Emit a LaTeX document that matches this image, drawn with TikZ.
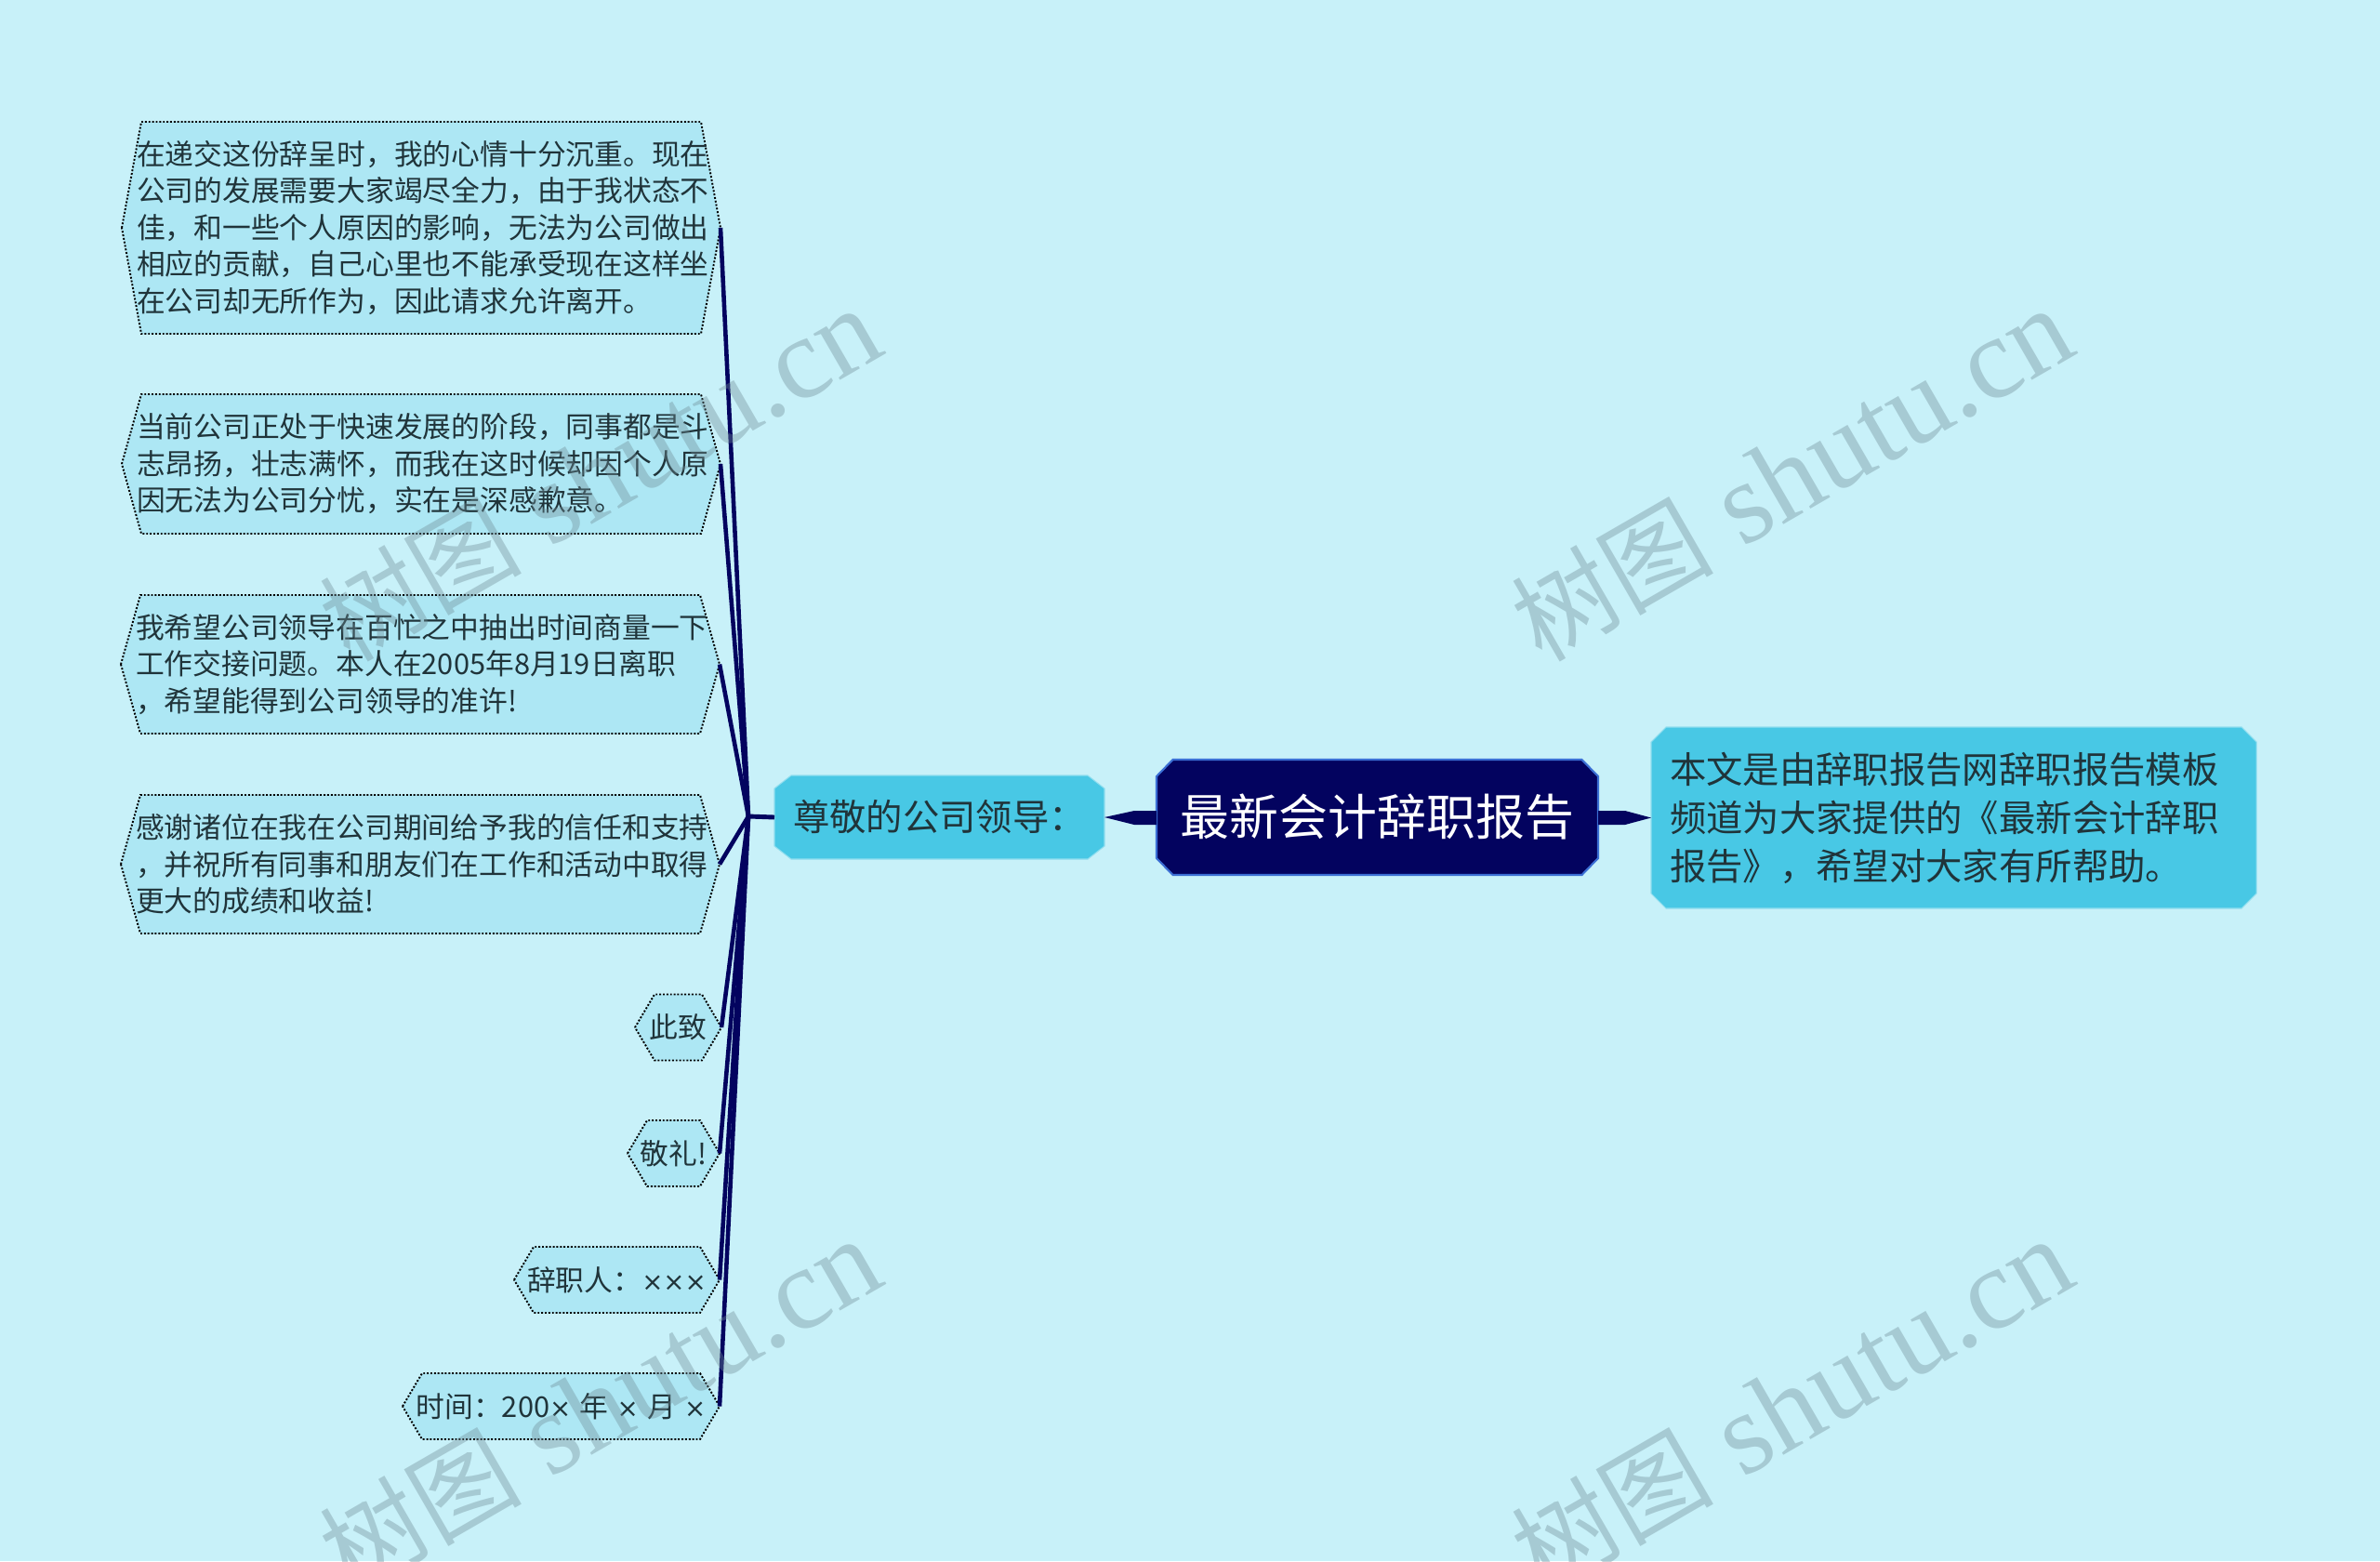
\documentclass[tikz,border=0pt]{standalone}
\usepackage{fontspec}
\usepackage{xcolor}
\usetikzlibrary{backgrounds}
\setmainfont{Noto Sans CJK SC}
\newfontfamily\markfont{Liberation Serif}
\newfontfamily\markcjk{Noto Sans CJK SC}
\newfontfamily\crossfont[Scale=0.9]{DejaVu Sans}
\definecolor{bgblue}{HTML}{C8F1F9}
\definecolor{leafblue}{HTML}{ADE7F4}
\definecolor{topicblue}{HTML}{48C8E5}
\definecolor{navy}{HTML}{03035F}
\definecolor{edgeblue}{HTML}{3B6FD4}
\definecolor{inkgray}{HTML}{20343A}
\definecolor{markgray}{HTML}{6F8C96}
\newcommand{\crossmark}{{\crossfont ×}}
\newcommand{\hexback}[1]{\draw[leafline] (#1.west) -- ([xshift=0.21cm]#1.north west) -- ([xshift=-0.21cm]#1.north east) -- (#1.east) -- ([xshift=-0.21cm]#1.south east) -- ([xshift=0.21cm]#1.south west) -- cycle;}
\newcommand{\octback}[4]{\draw[#1] ([xshift=#2]#4.north west) -- ([xshift=-#2]#4.north east) -- ([yshift=-#3]#4.north east) -- ([yshift=#3]#4.south east) -- ([xshift=-#2]#4.south east) -- ([xshift=#2]#4.south west) -- ([yshift=#3]#4.south west) -- ([yshift=-#3]#4.north west) -- cycle;}
\tikzset{
 leafline/.style={fill=leafblue,draw=black,line width=0.55pt,dash pattern=on 0.55pt off 0.55pt},
 leafbox/.style={inner sep=0pt,outer sep=0pt,align=left,text=inkgray,font=\fontsize{8.76pt}{11.24pt}\selectfont},
 longleaf/.style={leafbox,text width=6.12cm,inner xsep=0.16cm,minimum width=6.44cm},
 shortleaf/.style={leafbox,minimum height=0.71cm},
 topicbox/.style={inner sep=0pt,outer sep=0pt,align=left,text=inkgray,font=\fontsize{11.2pt}{14.8pt}\selectfont},
 topicline/.style={fill=topicblue,draw=topicblue!60!white,line width=0.3pt},
 titleline/.style={fill=navy,draw=edgeblue,line width=0.6pt},
 linkline/.style={navy,line width=1.3pt},
 markword/.style={markgray,opacity=0.38,rotate=30,inner sep=0pt,font=\fontsize{35.5pt}{40pt}\markfont}
}
\begin{document}
\begin{tikzpicture}
 \path[use as bounding box,clip] (0,0) rectangle (25.6,-16.79);

 \coordinate (hub) at (8.05,-8.78);

 \node (leafa) at (4.53,-2.45)[longleaf,minimum height=2.28cm]{在递交这份辞呈时，我的心情十分沉重。现在\\公司的发展需要大家竭尽全力，由于我状态不\\佳，和一些个人原因的影响，无法为公司做出\\相应的贡献，自己心里也不能承受现在这样坐\\在公司却无所作为，因此请求允许离开。};
 \node (leafb) at (4.53,-4.99)[longleaf,minimum height=1.50cm]{当前公司正处于快速发展的阶段，同事都是斗\\志昂扬，壮志满怀，而我在这时候却因个人原\\因无法为公司分忧，实在是深感歉意。};
 \node (leafc) at (4.52,-7.145)[longleaf,minimum height=1.49cm]{我希望公司领导在百忙之中抽出时间商量一下\\工作交接问题。本人在2005年8月19日离职\\，希望能得到公司领导的准许!};
 \node (leafd) at (4.52,-9.295)[longleaf,minimum height=1.49cm]{感谢诸位在我在公司期间给予我的信任和支持\\，并祝所有同事和朋友们在工作和活动中取得\\更大的成绩和收益!};
 \node (leafe) at (7.295,-11.05)[shortleaf,minimum width=0.93cm]{此致};
 \node (leaff) at (7.245,-12.405)[shortleaf,minimum width=0.99cm]{敬礼!};
 \node (leafg) at (6.635,-13.765)[shortleaf,minimum width=2.21cm]{辞职人：\crossmark\crossmark\crossmark};
 \node (leafh) at (6.035,-15.125)[shortleaf,minimum width=3.41cm]{\spaceskip=0.3em 时间：200\crossmark{} 年 \crossmark{} 月 \crossmark};

 \node (topic) at (10.105,-8.79)[topicbox,minimum width=3.55cm,minimum height=0.90cm]{尊敬的公司领导：};
 \node (title) at (14.815,-8.79)[inner sep=0pt,outer sep=0pt,minimum width=4.75cm,minimum height=1.24cm,text=white,font=\fontsize{15.05pt}{18pt}\selectfont]{最新会计辞职报告};
 \node (note) at (21.015,-8.795)[topicbox,minimum width=6.51cm,minimum height=1.95cm,text width=6.11cm,inner xsep=0.2cm]{本文是由辞职报告网辞职报告模板\\频道为大家提供的《最新会计辞职\\报告》，希望对大家有所帮助。};

 \begin{scope}[on background layer]
  \fill[bgblue] (0,0) rectangle (25.6,-16.79);
  \hexback{leafa}
  \hexback{leafb}
  \hexback{leafc}
  \hexback{leafd}
  \hexback{leafe}
  \hexback{leaff}
  \hexback{leafg}
  \hexback{leafh}
  \octback{topicline}{0.18cm}{0.14cm}{topic}
  \octback{titleline}{0.175cm}{0.18cm}{title}
  \octback{topicline}{0.16cm}{0.16cm}{note}
 \end{scope}

 \draw[linkline] (leafa.east) -- (hub);
 \draw[linkline] (leafb.east) -- (hub);
 \draw[linkline] (leafc.east) -- (hub);
 \draw[linkline] (leafd.east) -- (hub);
 \draw[linkline] (leafe.east) -- (hub);
 \draw[linkline] (leaff.east) -- (hub);
 \draw[linkline] (leafg.east) -- (hub);
 \draw[linkline] (leafh.east) -- (hub);

 \draw[navy,line width=1.4pt] (hub) -- (topic.west);
 \fill[navy] (topic.east) -- (12.2,-8.72) -- ([yshift=0.07cm]title.west) -- ([yshift=-0.08cm]title.west) -- (12.2,-8.87) -- cycle;
 \fill[navy] (note.west) -- (17.48,-8.72) -- ([yshift=0.07cm]title.east) -- ([yshift=-0.08cm]title.east) -- (17.48,-8.87) -- cycle;

 \node (marka) at (6.45,-5.11)[markword]{{\markcjk\fontsize{31pt}{40pt}\selectfont 树图} shutu.cn};
 \node (markb) at (19.27,-5.11)[markword]{{\markcjk\fontsize{31pt}{40pt}\selectfont 树图} shutu.cn};
 \node (markc) at (6.45,-15.12)[markword]{{\markcjk\fontsize{31pt}{40pt}\selectfont 树图} shutu.cn};
 \node (markd) at (19.27,-15.12)[markword]{{\markcjk\fontsize{31pt}{40pt}\selectfont 树图} shutu.cn};
\end{tikzpicture}
\end{document}
